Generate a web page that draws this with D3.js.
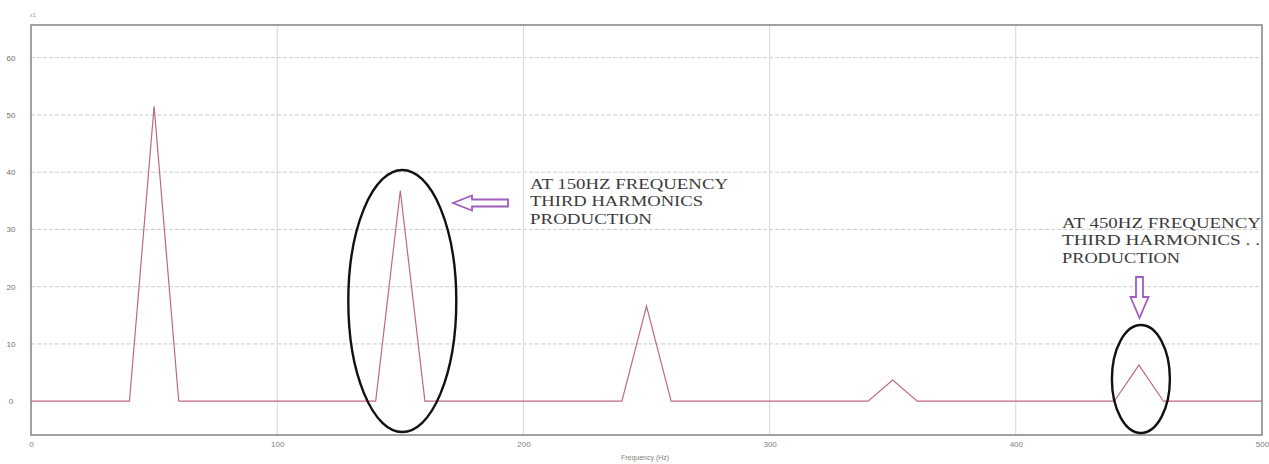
<!DOCTYPE html>
<html>
<head>
<meta charset="utf-8">
<script src="https://cdn.jsdelivr.net/npm/d3@7"></script>
<style>
  html, body { margin: 0; padding: 0; background: #fff; }
  svg { display: block; }
</style>
</head>
<body>
<svg id="chart" width="1269" height="464"></svg>
<script>
// Harmonic spectrum: breakpoints of the amplitude trace (Hz, amplitude)
const frequencies = [0, 40, 50, 60, 140, 150, 160, 240, 250, 260, 340, 350, 360, 440, 450, 460, 500];
const amplitudes  = [0, 0, 51.5, 0, 0, 36.8, 0, 0, 16.6, 0, 0, 3.7, 0, 0, 6.3, 0, 0];

const xTicks = [0, 100, 200, 300, 400, 500];
const yTicks = [0, 10, 20, 30, 40, 50, 60];
const xLabel = "Frequency (Hz)";
const unitLabel = "x1";

// Highlighted harmonics with their notes
const noteLines150 = ["AT 150HZ FREQUENCY", "THIRD HARMONICS", "PRODUCTION"];
const noteLines450 = ["AT 450HZ FREQUENCY", "THIRD HARMONICS .  .", "PRODUCTION"];

const svg = d3.select("#chart");
const plot = { left: 31, right: 1262, top: 25, bottom: 435 };

const x = d3.scaleLinear().domain([0, 500]).range([plot.left, plot.right]);
const y = d3.scaleLinear().domain([-5.9, 65.7]).range([plot.bottom, plot.top]);

// grid
const grid = svg.append("g");
grid.selectAll("line.h").data(yTicks.filter(d => d > 0)).join("line")
  .attr("x1", plot.left).attr("x2", plot.right)
  .attr("y1", d => y(d)).attr("y2", d => y(d))
  .attr("stroke", "#cdcdcd").attr("stroke-width", 1)
  .attr("stroke-dasharray", "4,2");
grid.selectAll("line.v").data(xTicks.filter(d => d > 0 && d < 500)).join("line")
  .attr("x1", d => x(d)).attr("x2", d => x(d))
  .attr("y1", plot.top).attr("y2", plot.bottom)
  .attr("stroke", "#d6d6d6").attr("stroke-width", 1);

// axes (labels only; frame drawn separately)
const xAxis = d3.axisBottom(x).tickValues(xTicks).tickSize(0).tickPadding(6);
const gx = svg.append("g").attr("transform", `translate(0,${plot.bottom})`).call(xAxis);
gx.select(".domain").remove();
gx.selectAll("text").attr("font-family", "Liberation Sans, Arial, sans-serif")
  .attr("font-size", 8).attr("fill", "#808080");

const yAxis = d3.axisLeft(y).tickValues(yTicks).tickSize(0).tickPadding(20);
const gy = svg.append("g").attr("transform", `translate(${plot.left},0)`).call(yAxis);
gy.select(".domain").remove();
gy.selectAll("text").attr("font-family", "Liberation Sans, Arial, sans-serif")
  .attr("font-size", 8).attr("fill", "#707070").attr("text-anchor", "middle");

svg.append("text").attr("x", 645).attr("y", 460)
  .attr("text-anchor", "middle")
  .attr("font-family", "Liberation Sans, Arial, sans-serif")
  .attr("font-size", 7).attr("fill", "#808080").text(xLabel);

svg.append("text").attr("x", 33).attr("y", 17)
  .attr("text-anchor", "middle")
  .attr("font-family", "Liberation Sans, Arial, sans-serif")
  .attr("font-size", 6).attr("fill", "#999").text(unitLabel);

// amplitude trace
const line = d3.line().x((d, i) => x(frequencies[i])).y(d => y(d));
svg.append("path").datum(amplitudes)
  .attr("d", line)
  .attr("fill", "none")
  .attr("stroke", "#c0687c")
  .attr("stroke-width", 1.2)
  .attr("stroke-linejoin", "miter");

// frame
svg.append("rect")
  .attr("x", plot.left).attr("y", plot.top)
  .attr("width", plot.right - plot.left).attr("height", plot.bottom - plot.top)
  .attr("fill", "none").attr("stroke", "#8a8a8a").attr("stroke-width", 1.6);

// ellipses around the 150 Hz and 450 Hz harmonics
const ring = [
  { f: 150, cy: 301, rx: 54, ry: 131 },
  { f: 450, cy: 379, rx: 29, ry: 54 }
];
svg.selectAll("ellipse.ring").data(ring).join("ellipse")
  .attr("cx", d => x(d.f) + 2).attr("cy", d => d.cy)
  .attr("rx", d => d.rx).attr("ry", d => d.ry)
  .attr("fill", "none").attr("stroke", "#111").attr("stroke-width", 2.4);

// hollow arrows
const arrowColor = "#a15cc0";
// left-pointing arrow toward the 150 Hz peak
(function () {
  const tipX = 453, cy = 203, endX = 508, headLen = 19, headH = 7.5, shaftH = 3.5;
  const pts = [
    [tipX, cy], [tipX + headLen, cy - headH], [tipX + headLen, cy - shaftH],
    [endX, cy - shaftH], [endX, cy + shaftH], [tipX + headLen, cy + shaftH],
    [tipX + headLen, cy + headH]
  ];
  svg.append("polygon").attr("points", pts.map(p => p.join(",")).join(" "))
    .attr("fill", "#fff").attr("stroke", arrowColor).attr("stroke-width", 1.8)
    .attr("stroke-linejoin", "miter");
})();
// down-pointing arrow toward the 450 Hz peak
(function () {
  const cx = 1139.5, topY = 277, tipY = 318, headLen = 21, headW = 9, shaftW = 3.5;
  const pts = [
    [cx, tipY], [cx - headW, tipY - headLen], [cx - shaftW, tipY - headLen],
    [cx - shaftW, topY], [cx + shaftW, topY], [cx + shaftW, tipY - headLen],
    [cx + headW, tipY - headLen]
  ];
  svg.append("polygon").attr("points", pts.map(p => p.join(",")).join(" "))
    .attr("fill", "#fff").attr("stroke", arrowColor).attr("stroke-width", 1.8)
    .attr("stroke-linejoin", "miter");
})();

// notes
function note(lines, x0, y0, widths) {
  const t = svg.append("text")
    .attr("font-family", "Liberation Serif, Times New Roman, serif")
    .attr("font-size", 14).attr("fill", "#3a3a3a");
  lines.forEach((s, i) => {
    t.append("tspan").attr("x", x0).attr("y", y0 + i * 17.3)
      .attr("textLength", widths[i]).attr("lengthAdjust", "spacingAndGlyphs")
      .text(s);
  });
}
note(noteLines150, 530, 189, [198, 173, 122]);
note(noteLines450, 1062, 228, [199, 198, 118]);
</script>
</body>
</html>
